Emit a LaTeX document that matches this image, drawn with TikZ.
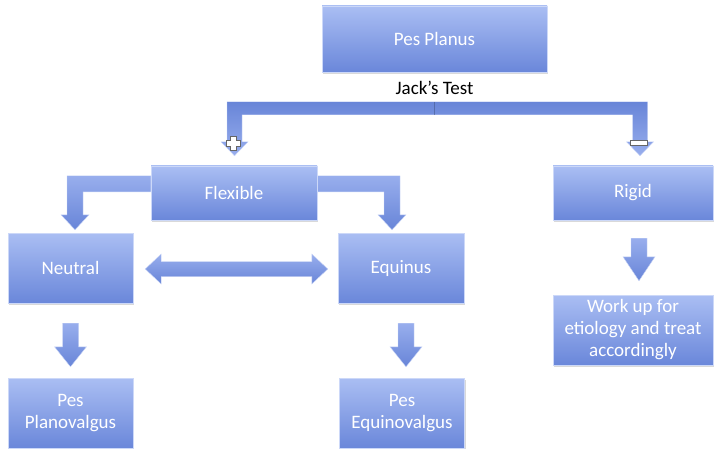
\documentclass[tikz,border=0pt]{standalone}
\usepackage{fontspec}
\setmainfont{Carlito}
\usetikzlibrary{positioning,calc,shadows,backgrounds}

\definecolor{boxtop}{RGB}{170,190,243}
\definecolor{boxbot}{RGB}{106,135,218}
\definecolor{arrtop}{RGB}{152,174,237}
\definecolor{arrbot}{RGB}{104,133,216}

\tikzset{
	box/.style={rectangle, top color=boxtop, bottom color=boxbot, draw=boxtop!60!white, line width=0.4pt,
		text=white, align=center, inner sep=0pt, font=\fontsize{19}{22}\selectfont,
		drop shadow={opacity=0.3, shadow xshift=1pt, shadow yshift=-2pt}},
	blockarrow/.style={top color=arrtop, bottom color=arrbot, draw=arrtop!50!white, line width=0.4pt},
	bracketarrow/.style={top color=arrbot, bottom color=arrtop, draw=arrtop!50!white, line width=0.4pt},
	signmark/.style={fill=white, draw=black!60, line width=0.8pt},
	seam/.style={draw=arrbot!60!black, line width=0.4pt, opacity=0.5}
}

% down block arrow: start, tip, head length
\newcommand{\blockdown}[3]{\path[blockarrow] ($(#1)+(-8,0)$) -- ($(#1)+(8,0)$) -- ($(#2)+(8,-#3)$) -- ($(#2)+(16,-#3)$) -- (#2) -- ($(#2)+(-16,-#3)$) -- ($(#2)+(-8,-#3)$) -- cycle;}

\begin{document}
\begin{tikzpicture}[x=1pt, y=-1pt]
	\useasboundingbox (0,0) rectangle (714,449);
	
	% Boxes
	\node[box, minimum width=225pt, minimum height=66pt] (planus) at (434.5,39) {Pes Planus};
	\node[below=7pt of planus, inner sep=2pt, font=\fontsize{19}{22}\selectfont] (jack) {Jack's Test};
	
	\node[box, minimum width=166pt, minimum height=54pt] (flex) at (234,193) {Flexible};
	\node[box, minimum width=160pt, minimum height=54pt] (rigid) at (633,193) {Rigid};
	
	\node[box, minimum width=125pt, minimum height=70pt] (neutral) at (70.5,268) {Neutral};
	\node[box, minimum width=126pt, minimum height=70pt] (equinus) at (401,268) {Equinus};
	\node[box, minimum width=160pt, minimum height=70pt] (workup) at (633,330) {Work up for\\etiology and treat\\accordingly};
	
	\node[box, minimum width=125pt, minimum height=70pt] (planov) at (70.5,413) {Pes\\Planovalgus};
	\node[box, minimum width=125pt, minimum height=70pt] (equinov) at (402,413) {Pes\\Equinovalgus};
	
	% Tips of the arrows
	\coordinate (tipL) at ($(flex.north)+(0.5,-10)$);
	\coordinate (tipR) at ($(rigid.north)+(7,-10)$);
	\coordinate (tipNL) at ($(neutral.north)+(4.5,-3)$);
	\coordinate (tipNR) at ($(equinus.north)+(-9,-3)$);
	\coordinate (dl) at ($(neutral.east)+(12,1)$);
	\coordinate (dr) at ($(equinus.west)+(-10,1)$);
	
	\begin{scope}[on background layer]
		% Jack's test bracket
		\path[bracketarrow] (tipL) -- ++(-13.5,-14) -- ++(6,0) -- ++(0,-40)
			-- ($(tipR)+(7.5,-54)$) -- ++(0,40) -- ++(6,0) -- (tipR)
			-- ($(tipR)+(-13.5,-14)$) -- ++(6,0) -- ++(0,-27)
			-- ($(tipL)+(7.5,-41)$) -- ++(0,27) -- ++(6,0) -- cycle;
		\draw[seam] (jack.south |- 0,102) -- (jack.south |- 0,115);
		
		% plus and minus
		\draw[signmark] ($(tipL)+(-1,-12.5)$) ++(-3,-7) -- ++(6,0) -- ++(0,4) -- ++(4,0) -- ++(0,6)
			-- ++(-4,0) -- ++(0,4) -- ++(-6,0) -- ++(0,-4) -- ++(-4,0) -- ++(0,-6) -- ++(4,0) -- cycle;
		\draw[signmark] ($(tipR)+(-10,-15)$) rectangle ++(17,5);
		
		% Flexible to neutral / equinus
		\path[blockarrow] (tipNL) -- ++(-14,-15) -- ++(6,0) -- ++(0,-39)
			-- ($(flex.north west)+(0,10)$) -- ++(0,16) -- ($(tipNL)+(8,-38)$) -- ++(0,23) -- ++(6,0) -- cycle;
		\path[blockarrow] (tipNR) -- ++(14,-15) -- ++(-6,0) -- ++(0,-39)
			-- ($(flex.north east)+(0,10)$) -- ++(0,16) -- ($(tipNR)+(-8,-38)$) -- ++(0,23) -- ++(-6,0) -- cycle;
		
		% neutral <-> equinus
		\path[blockarrow] (dl) -- ++(16,-15) -- ++(0,7.5) -- ($(dr)+(-16,-7.5)$) -- ++(0,-7.5) -- (dr)
			-- ++(-16,15) -- ++(0,-7.5) -- ($(dl)+(16,7.5)$) -- ++(0,7.5) -- cycle;
		
		% straight down arrows
		\coordinate (s1) at ($(neutral.south)+(0,20)$);
		\coordinate (t1) at ($(planov.north)+(0,-11)$);
		\coordinate (s2) at ($(equinus.south)+(5,20)$);
		\coordinate (t2) at ($(equinov.north)+(4,-11)$);
		\coordinate (s3) at ($(rigid.south)+(6,18)$);
		\coordinate (t3) at ($(workup.north)+(6,-14)$);
		\blockdown{s1}{t1}{20}
		\blockdown{s2}{t2}{20}
		\blockdown{s3}{t3}{24}
	\end{scope}
\end{tikzpicture}
\end{document}
